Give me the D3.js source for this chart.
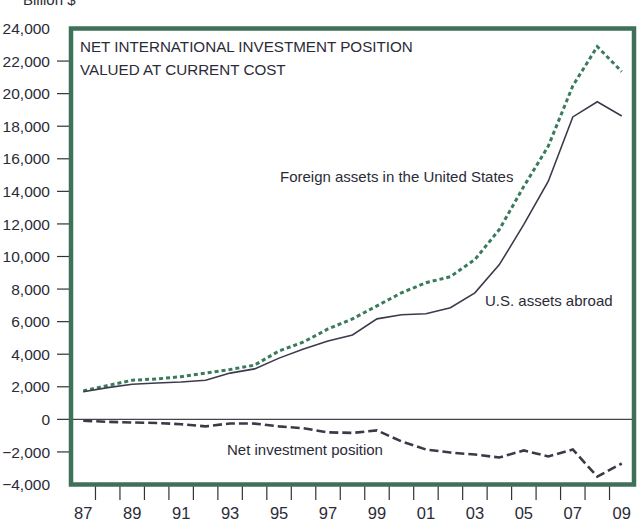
<!doctype html>
<html lang="en">
<head>
<meta charset="utf-8">
<title>Net International Investment Position</title>
<style>
  body { margin: 0; background: #fff; }
  svg text { font-family: "Liberation Sans", Arial, sans-serif; fill: #2b2b38; }
</style>
</head>
<body>
<div id="chart"></div>
<script src="https://d3js.org/d3.v7.min.js"></script>
<script>
// data (billion $)
var years = [1987, 1988, 1989, 1990, 1991, 1992, 1993, 1994, 1995, 1996, 1997, 1998,
             1999, 2000, 2001, 2002, 2003, 2004, 2005, 2006, 2007, 2008, 2009];
var usAssets = [1700, 1950, 2160, 2230, 2290, 2400, 2840, 3100, 3760, 4320, 4810, 5180,
                6170, 6420, 6480, 6850, 7770, 9500, 11970, 14620, 18570, 19500, 18630];
var foreignAssets = [1750, 2080, 2400, 2480, 2620, 2840, 3060, 3330, 4200, 4750, 5550, 6170,
                     6970, 7770, 8390, 8760, 9810, 11660, 14310, 16780, 20480, 22890, 21350];
var netPosition = [-80, -150, -190, -220, -300, -430, -250, -260, -430, -550, -800, -830,
                   -680, -1350, -1850, -2040, -2160, -2340, -1910, -2280, -1850, -3520, -2710];
var yTicks = [-4000, -2000, 0, 2000, 4000, 6000, 8000, 10000, 12000, 14000, 16000, 18000, 20000, 22000, 24000];
var xLabelYears = [1987, 1989, 1991, 1993, 1995, 1997, 1999, 2001, 2003, 2005, 2007, 2009];

var width = 639, height = 529;
var plotLeft = 71, plotRight = 634, plotTop = 28.5, plotBottom = 484.5;

var svg = d3.select("#chart").append("svg")
    .attr("width", width)
    .attr("height", height);

var x = d3.scaleLinear().domain([1986.5, 2009.5]).range([plotLeft, plotRight]);
var y = d3.scaleLinear().domain([-4000, 24000]).range([plotBottom, plotTop]);

// unit label (cut at the top edge like the reference)
svg.append("text").attr("x", 23).attr("y", 5).style("font-size", "15px").text("Billion $");

// y labels and ticks
svg.selectAll(".ylab").data(yTicks).enter().append("text")
    .attr("x", 50).attr("y", function(d) { return y(d); })
    .attr("dy", "0.36em")
    .attr("text-anchor", "end")
    .style("font-size", "15.5px")
    .text(function(d) { return d < 0 ? "\u2212" + d3.format(",")(-d) : d3.format(",")(d); });

svg.selectAll(".ytick").data(yTicks.slice(1, -1)).enter().append("line")
    .attr("x1", 57).attr("x2", plotLeft)
    .attr("y1", function(d) { return y(d); })
    .attr("y2", function(d) { return y(d); })
    .attr("stroke", "#333").attr("stroke-width", 1.2);

// x ticks at year boundaries, labels at year centres
var boundaries = years.slice(0, -1).map(function(d) { return d + 0.5; });
svg.selectAll(".xtick").data(boundaries).enter().append("line")
    .attr("x1", function(d) { return x(d); })
    .attr("x2", function(d) { return x(d); })
    .attr("y1", plotBottom).attr("y2", 500)
    .attr("stroke", "#333").attr("stroke-width", 1.2);

svg.selectAll(".xlab").data(xLabelYears).enter().append("text")
    .attr("x", function(d) { return x(d); })
    .attr("y", 519)
    .attr("text-anchor", "middle")
    .style("font-size", "16.5px")
    .text(function(d) { return d3.format("02")(d % 100); });

// zero line
svg.append("line")
    .attr("x1", plotLeft).attr("x2", plotRight)
    .attr("y1", y(0)).attr("y2", y(0))
    .attr("stroke", "#44444f").attr("stroke-width", 1.3);

var line = function(values) {
    return d3.line()
        .x(function(d, i) { return x(years[i]); })
        .y(function(d) { return y(d); })(values);
};

svg.append("path").attr("d", line(foreignAssets))
    .attr("fill", "none").attr("stroke", "#3a7b5c")
    .attr("stroke-width", 3).attr("stroke-dasharray", "4,3");

svg.append("path").attr("d", line(usAssets))
    .attr("fill", "none").attr("stroke", "#3b3b4c")
    .attr("stroke-width", 1.6);

svg.append("path").attr("d", line(netPosition))
    .attr("fill", "none").attr("stroke", "#3b3b48")
    .attr("stroke-width", 2.6).attr("stroke-dasharray", "9,4");

// frame
svg.append("rect")
    .attr("x", plotLeft).attr("y", plotTop)
    .attr("width", plotRight - plotLeft).attr("height", plotBottom - plotTop)
    .attr("fill", "none").attr("stroke", "#3f7059").attr("stroke-width", 4.5);

// titles and series labels
svg.append("text").attr("x", 80).attr("y", 52).style("font-size", "15.2px")
    .text("NET INTERNATIONAL INVESTMENT POSITION");
svg.append("text").attr("x", 80).attr("y", 75).style("font-size", "15.2px")
    .text("VALUED AT CURRENT COST");
svg.append("text").attr("x", 280).attr("y", 182).style("font-size", "15px")
    .text("Foreign assets in the United States");
svg.append("text").attr("x", 485).attr("y", 306).style("font-size", "15px")
    .text("U.S. assets abroad");
svg.append("text").attr("x", 227).attr("y", 455).style("font-size", "15px")
    .text("Net investment position");
</script>
</body>
</html>
